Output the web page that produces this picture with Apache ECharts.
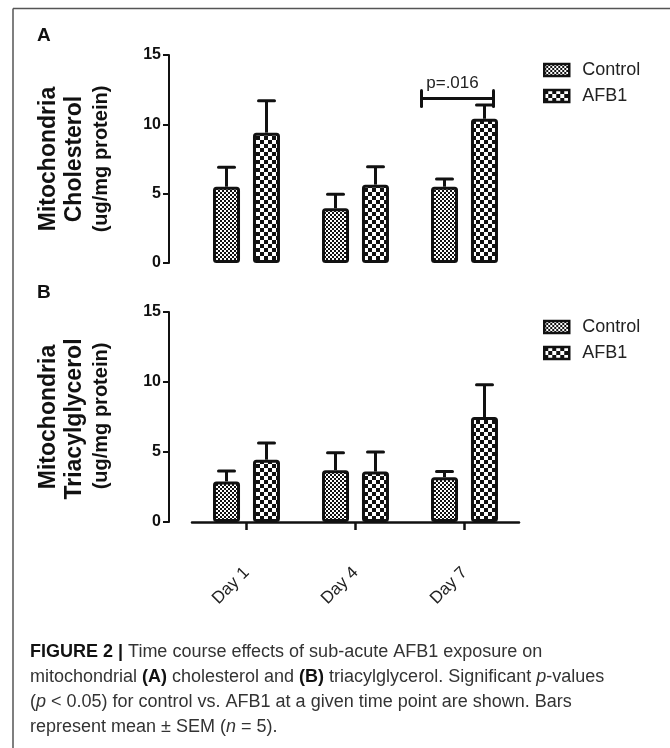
<!DOCTYPE html>
<html>
<head>
<meta charset="utf-8">
<script src="https://cdn.jsdelivr.net/npm/echarts@6/dist/echarts.min.js"></script>
<style>
html,body{margin:0;padding:0;background:#fff;}
#chart{width:670px;height:748px;}
</style>
</head>
<body>
<div id="chart"></div>
<script>
// ---- data ----
const days = ['Day 1', 'Day 4', 'Day 7'];
const seriesNames = ['Control', 'AFB1'];
const yTicks = [0, 5, 10, 15];

const cholControl = [5.5, 3.95, 5.5];
const cholControlSem = [1.4, 1.0, 0.55];
const cholAFB1 = [9.4, 5.65, 10.4];
const cholAFB1Sem = [2.3, 1.3, 1.0];

const tagControl = [2.9, 3.7, 3.2];
const tagControlSem = [0.75, 1.25, 0.4];
const tagAFB1 = [4.45, 3.6, 7.5];
const tagAFB1Sem = [1.2, 1.4, 2.3];

const sigDayIndex = 2;
const sigLevel = 11.87;
const sigLabel = 'p=.016';

// ---- patterns ----
function checker(cell) {
  const c = document.createElement('canvas');
  c.width = cell * 2; c.height = cell * 2;
  const g = c.getContext('2d');
  g.fillStyle = '#fff'; g.fillRect(0, 0, cell * 2, cell * 2);
  g.fillStyle = '#111';
  g.fillRect(0, 0, cell, cell);
  g.fillRect(cell, cell, cell, cell);
  return { image: c, repeat: 'repeat' };
}
const patControl = checker(2);
const patAFB1 = checker(4);

const FONT = 'Liberation Sans, Arial, sans-serif';
const INK = '#111';

function errRender(offset) {
  return function (params, api) {
    const b = api.coord([api.value(0), api.value(1)]);
    const t = api.coord([api.value(0), api.value(2)]);
    const cx = b[0] + offset;
    return {
      type: 'group',
      children: [
        { type: 'line', shape: { x1: cx, y1: b[1], x2: cx, y2: t[1] }, style: { stroke: INK, lineWidth: 3 } },
        { type: 'line', shape: { x1: cx - 8, y1: t[1], x2: cx + 8, y2: t[1] }, style: { stroke: INK, lineWidth: 3, lineCap: 'round' } }
      ]
    };
  };
}

function sigRender(params, api) {
  const p = api.coord([api.value(0), api.value(1)]);
  const x1 = p[0] - 43, x2 = p[0] + 29, y = p[1];
  return {
    type: 'group',
    children: [
      { type: 'line', shape: { x1: x1, y1: y, x2: x2, y2: y }, style: { stroke: INK, lineWidth: 3 } },
      { type: 'line', shape: { x1: x1, y1: y - 8, x2: x1, y2: y + 8 }, style: { stroke: INK, lineWidth: 3, lineCap: 'round' } },
      { type: 'line', shape: { x1: x2, y1: y - 8, x2: x2, y2: y + 8 }, style: { stroke: INK, lineWidth: 3, lineCap: 'round' } },
      { type: 'text', x: p[0] - 12, y: y - 15, style: { text: sigLabel, fill: '#222', font: '17px ' + FONT, align: 'center', verticalAlign: 'middle' } }
    ]
  };
}

function errData(mean, sem) {
  return mean.map((m, i) => [i, m, +(m + sem[i]).toFixed(3)]);
}

function barSeries(name, data, idx, pat) {
  return {
    name: name, type: 'bar', xAxisIndex: idx, yAxisIndex: idx,
    data: data, barWidth: 27, barGap: '48%',
    itemStyle: { color: pat, borderColor: INK, borderWidth: 3, borderRadius: 2 },
    z: 2
  };
}
function errSeries(name, mean, sem, idx, offset) {
  return {
    name: name, type: 'custom', xAxisIndex: idx, yAxisIndex: idx,
    data: errData(mean, sem), encode: { x: 0, y: [1, 2] },
    renderItem: errRender(offset), z: 3, silent: true
  };
}

const yAxisBase = {
  type: 'value', min: 0, max: 15, interval: 5, offset: 23,
  axisLine: { show: true, lineStyle: { color: INK, width: 2 } },
  axisTick: { show: true, length: 6, lineStyle: { color: INK, width: 2 } },
  axisLabel: { color: INK, fontSize: 16, fontWeight: 'bold', fontFamily: FONT, margin: 8 },
  splitLine: { show: false }
};

const legendBase = {
  orient: 'vertical', left: 543, padding: 0, icon: 'rect', itemWidth: 25, itemHeight: 12, itemGap: 6,
  data: seriesNames,
  itemStyle: { borderColor: INK, borderWidth: 2.5 },
  textStyle: { fontSize: 18, color: '#222', fontFamily: FONT, lineHeight: 20, padding: [0, 0, 0, 8] },
  selectedMode: false
};

function rotText(x, y, text, size) {
  return {
    type: 'text', x: x, y: y, rotation: Math.PI / 2,
    style: { text: text, fill: INK, font: 'bold ' + size + 'px ' + FONT, align: 'center', verticalAlign: 'middle' }
  };
}

const chart = echarts.init(document.getElementById('chart'));
chart.setOption({
  animation: false,
  backgroundColor: '#fff',
  grid: [
    { left: 192, width: 327, top: 55, height: 208 },
    { left: 192, width: 327, top: 312, height: 210 }
  ],
  xAxis: [
    { type: 'category', data: days, gridIndex: 0, show: false },
    {
      type: 'category', data: days, gridIndex: 1, offset: 23,
      axisLine: { show: true, lineStyle: { color: INK, width: 2.5 } },
      axisTick: { show: true, alignWithLabel: true, length: 8, lineStyle: { color: INK, width: 2.5 } },
      axisLabel: { rotate: 45, color: '#222', fontSize: 17, fontFamily: FONT, margin: 25 }
    }
  ],
  yAxis: [
    Object.assign({ gridIndex: 0 }, yAxisBase),
    Object.assign({ gridIndex: 1 }, yAxisBase)
  ],
  legend: [
    Object.assign({ top: 60 }, legendBase),
    Object.assign({ top: 317 }, legendBase)
  ],
  series: [
    barSeries('Control', cholControl, 0, patControl),
    barSeries('AFB1', cholAFB1, 0, patAFB1),
    errSeries('errA1', cholControl, cholControlSem, 0, -20),
    errSeries('errA2', cholAFB1, cholAFB1Sem, 0, 20),
    {
      name: 'sig', type: 'custom', xAxisIndex: 0, yAxisIndex: 0,
      data: [[sigDayIndex, sigLevel]], encode: { x: 0, y: 1 },
      renderItem: sigRender, z: 4, silent: true
    },
    barSeries('Control', tagControl, 1, patControl),
    barSeries('AFB1', tagAFB1, 1, patAFB1),
    errSeries('errB1', tagControl, tagControlSem, 1, -20),
    errSeries('errB2', tagAFB1, tagAFB1Sem, 1, 20)
  ],
  graphic: [
    { type: 'line', shape: { x1: 13, y1: 8.5, x2: 670, y2: 8.5 }, style: { stroke: '#555', lineWidth: 1.5 } },
    { type: 'line', shape: { x1: 13, y1: 8.5, x2: 13, y2: 748 }, style: { stroke: '#555', lineWidth: 1.5 } },
    { type: 'text', x: 37, y: 36, style: { text: 'A', fill: INK, font: 'bold 19px ' + FONT, verticalAlign: 'middle' } },
    { type: 'text', x: 37, y: 293, style: { text: 'B', fill: INK, font: 'bold 19px ' + FONT, verticalAlign: 'middle' } },
    rotText(49, 159, 'Mitochondria', 23),
    rotText(75, 159, 'Cholesterol', 23),
    rotText(101, 159, '(ug/mg protein)', 20),
    rotText(49, 417, 'Mitochondria', 23),
    rotText(75, 419, 'Triacylglycerol', 23),
    rotText(101, 416, '(ug/mg protein)', 20),
    {
      type: 'text', x: 30, y: 639.5,
      style: {
        text: '{b|FIGURE 2 |} Time course effects of sub-acute AFB1 exposure on\n' +
              'mitochondrial {b|(A)} cholesterol and {b|(B)} triacylglycerol. Significant {i|p}-values\n' +
              '({i|p} < 0.05) for control vs. AFB1 at a given time point are shown. Bars\n' +
              'represent mean ± SEM ({i|n} = 5).',
        fill: '#333', font: '18px ' + FONT, lineHeight: 25,
        rich: {
          b: { fontWeight: 'bold', fill: '#111', fontSize: 18, fontFamily: FONT, lineHeight: 25 },
          i: { fontStyle: 'italic', fill: '#333', fontSize: 18, fontFamily: FONT, lineHeight: 25 }
        }
      }
    }
  ]
});
</script>
</body>
</html>
